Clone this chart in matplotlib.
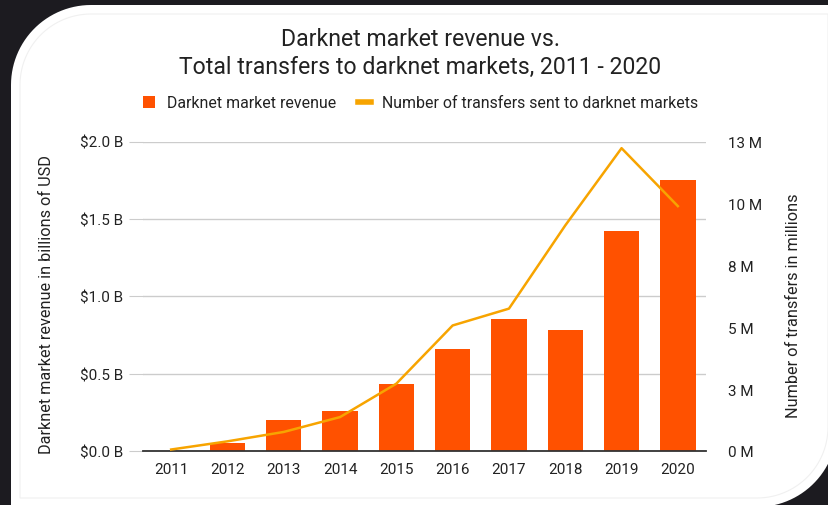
import numpy as np
import matplotlib
matplotlib.use('Agg')
import matplotlib.pyplot as plt
from matplotlib.patches import Polygon, Patch
from matplotlib.lines import Line2D

plt.rcParams['font.family'] = ['Roboto', 'DejaVu Sans']

# data
years = ['2011', '2012', '2013', '2014', '2015', '2016', '2017', '2018', '2019', '2020']
revenue_b = [0.0, 0.05, 0.20, 0.26, 0.43, 0.66, 0.85, 0.78, 1.42, 1.75]
transfers_m = [0.06, 0.39, 0.77, 1.37, 2.72, 5.07, 5.75, 9.11, 12.23, 9.89]

left_ticks = [0, 0.5, 1.0, 1.5, 2.0]
left_labels = ['$0.0 B', '$0.5 B', '$1.0 B', '$1.5 B', '$2.0 B']
right_ticks = [0, 2.5, 5, 7.5, 10, 12.5]
right_labels = ['0 M', '3 M', '5 M', '8 M', '10 M', '13 M']

bar_color = '#ff5100'
line_color = '#f7a400'
text_color = '#222222'
grid_color = '#cccccc'

W, H = 829, 506
fig = plt.figure(figsize=(W / 100, H / 100), dpi=100)
fig.patch.set_facecolor('#1c1b20')


def card_outline(left, top, right, r, cx_br, cy_br):
    # outline in pixel coords (y down): rounded top-left and bottom-right corners
    t = np.linspace(np.pi, 1.5 * np.pi, 30)
    tl = np.c_[left + r + r * np.cos(t), top + r + r * np.sin(t)]
    t2 = np.linspace(0, 0.5 * np.pi, 30)
    br = np.c_[cx_br + r * np.cos(t2), cy_br + r * np.sin(t2)]
    pts = np.vstack([[[left, cy_br + r]], tl, [[right, top]], br, [[left, cy_br + r]]])
    return np.c_[pts[:, 0] / W, 1 - pts[:, 1] / H]


card = Polygon(card_outline(11, 6, 837, 80, 757, 428), closed=True,
               transform=fig.transFigure, facecolor='white', edgecolor='none', zorder=-2)
fig.patches.append(card)
inner = Polygon(card_outline(20, 15, 828, 71, 757, 428), closed=True,
                transform=fig.transFigure, facecolor='none', edgecolor='#f0f0f0',
                linewidth=0.8, zorder=-1)
fig.patches.append(inner)

ax = fig.add_axes([143 / W, 1 - 452 / H, (706 - 143) / W, (452 - 142.5) / H])
ax.set_facecolor('none')
x = range(len(years))

ax.bar(x, revenue_b, width=0.63, color=bar_color, zorder=2)
ax.set_xlim(-0.5, len(years) - 0.5)
ax.set_ylim(0, 2.0)
ax.set_yticks(left_ticks)
ax.set_yticklabels(left_labels)
ax.set_xticks(list(x))
ax.set_xticklabels(years)
ax.yaxis.grid(True, color=grid_color, linewidth=1, zorder=0)
ax.set_axisbelow(True)
for s in ['top', 'left', 'right']:
    ax.spines[s].set_visible(False)
ax.spines['bottom'].set_color('#333333')
ax.spines['bottom'].set_linewidth(1.3)
ax.spines['bottom'].set_zorder(4)
ax.tick_params(axis='y', left=True, right=True, length=10, color=grid_color,
               labelsize=11, labelcolor=text_color, pad=4)
ax.tick_params(axis='x', length=0, labelsize=11, labelcolor=text_color, pad=8)

ax2 = ax.twinx()
ax2.plot(x, transfers_m, color=line_color, linewidth=1.8, zorder=3)
ax2.set_ylim(0, 12.5)
ax2.set_yticks(right_ticks)
ax2.set_yticklabels(right_labels)
ax2.tick_params(axis='y', length=0, labelsize=11, labelcolor=text_color, pad=16)
for s in ax2.spines.values():
    s.set_visible(False)

fig.text(0.507, 1 - 40 / H, 'Darknet market revenue vs.', ha='center', va='center',
         fontsize=16.6, color=text_color)
fig.text(0.507, 1 - 67 / H, 'Total transfers to darknet markets, 2011 - 2020',
         ha='center', va='center', fontsize=16.6, color=text_color)

handles = [Patch(facecolor=bar_color, edgecolor='none'),
           Line2D([0], [0], color=line_color, linewidth=4)]
fig.legend(handles, ['Darknet market revenue', 'Number of transfers sent to darknet markets'],
           loc='center', bbox_to_anchor=(0.507, 1 - 104 / H), ncol=2, frameon=False,
           fontsize=11.4, handlelength=0.8, handleheight=0.8, handletextpad=0.7,
           columnspacing=1.4, labelcolor=text_color)

fig.text(47 / W, 1 - 305 / H, 'Darknet market revenue in billions of USD', rotation=90,
         ha='center', va='center', fontsize=11.7, color=text_color)
fig.text(794 / W, 1 - 306 / H, 'Number of transfers in millions', rotation=90,
         ha='center', va='center', fontsize=11.7, color=text_color)

fig.savefig('out.png', dpi=100, facecolor=fig.get_facecolor())
